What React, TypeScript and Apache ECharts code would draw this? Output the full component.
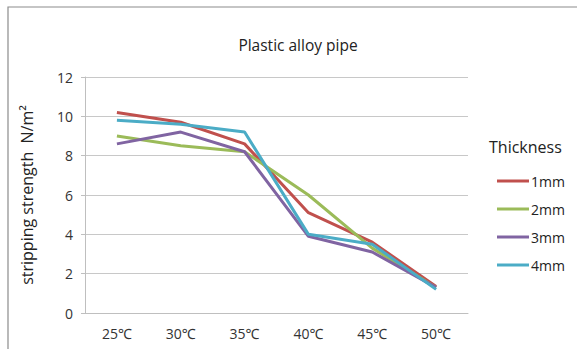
import React, { useEffect, useRef } from "react";
import * as echarts from "echarts";

const categories = ["25℃", "30℃", "35℃", "40℃", "45℃", "50℃"];
const seriesNames = ["1mm", "2mm", "3mm", "4mm"];
const values1mm = [10.2, 9.7, 8.6, 5.1, 3.6, 1.35];
const values2mm = [9.0, 8.5, 8.2, 6.0, 3.3, 1.3];
const values3mm = [8.6, 9.2, 8.2, 3.9, 3.1, 1.3];
const values4mm = [9.8, 9.6, 9.2, 4.0, 3.5, 1.2];
const yTicks = [0, 2, 4, 6, 8, 10, 12];
const colors = ["#C0504D", "#9BBB59", "#8064A2", "#4BACC6"];

const FONT = "'Open Sans', 'Noto Sans', sans-serif";

export default function App() {
  const ref = useRef<HTMLDivElement>(null);
  useEffect(() => {
    if (!ref.current) return;
    const chart = echarts.init(ref.current, undefined, { renderer: "svg" });
    const data = [values1mm, values2mm, values3mm, values4mm];
    chart.setOption({
      animation: false,
      backgroundColor: "#ffffff",
      title: {
        text: "Plastic alloy pipe",
        left: 293,
        top: 32,
        textAlign: "center",
        textStyle: { fontFamily: FONT, fontSize: 15.5, fontWeight: "normal", color: "#222" },
      },
      graphic: [
        {
          type: "rect",
          shape: { x: 8, y: 7, width: 620, height: 400 },
          style: { fill: "none", stroke: "#8c8c8c", lineWidth: 1.2 },
          silent: true,
        },
        {
          type: "text",
          left: 489,
          top: 139,
          style: { text: "Thickness", fontFamily: FONT, fontSize: 16, fill: "#222" },
        },
      ],
      legend: {
        orient: "vertical",
        left: 492,
        top: 169,
        itemWidth: 32,
        itemHeight: 3,
        itemGap: 14,
        icon: "rect",
        data: seriesNames,
        textStyle: { fontFamily: FONT, fontSize: 14, color: "#222", padding: [0, 0, 0, -3] },
      },
      grid: { left: 85, right: 109, top: 77, bottom: 36 },
      xAxis: {
        type: "category",
        data: categories,
        boundaryGap: true,
        axisLine: { lineStyle: { color: "#bfbfbf", width: 1 } },
        axisTick: { show: false },
        axisLabel: { fontFamily: FONT, fontSize: 14, color: "#333", margin: 13 },
      },
      yAxis: {
        type: "value",
        min: yTicks[0],
        max: yTicks[yTicks.length - 1],
        interval: 2,
        name: "stripping strength  N/m²",
        nameLocation: "middle",
        nameGap: 50,
        nameTextStyle: { fontFamily: FONT, fontSize: 16, color: "#222" },
        axisLine: { show: true, lineStyle: { color: "#bfbfbf", width: 1 } },
        axisTick: { show: true, length: 4, lineStyle: { color: "#bfbfbf" } },
        splitLine: { lineStyle: { color: "#c8c8c8", width: 1 } },
        axisLabel: { fontFamily: FONT, fontSize: 14, color: "#333", margin: 12 },
      },
      series: seriesNames.map((name, i) => ({
        name,
        type: "line",
        data: data[i],
        symbol: "none",
        lineStyle: { color: colors[i], width: 3 },
        itemStyle: { color: colors[i] },
      })),
    });
    return () => chart.dispose();
  }, []);
  return (
    <div
      ref={ref}
      style={{ position: "absolute", left: 0, top: 0, width: 577, height: 349 }}
    />
  );
}
